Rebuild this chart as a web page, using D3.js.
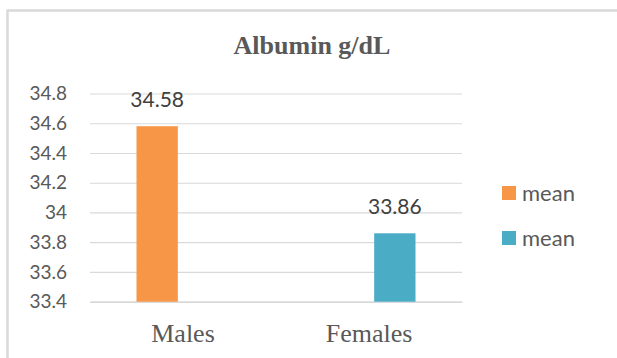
<!DOCTYPE html>
<html>
<head>
<meta charset="utf-8">
<script src="https://cdn.jsdelivr.net/npm/d3@7"></script>
<style>
  html, body { margin: 0; padding: 0; background: #fff; }
  svg { display: block; }
</style>
</head>
<body>
<svg id="chart" width="617" height="358"></svg>
<script>
// Chart data
const categories = ["Males", "Females"];
const seriesNames = ["mean", "mean"];
const seriesKeys = ["s1", "s2"];
const maleMeans = [34.58, null];      // first series (orange)
const femaleMeans = [null, 33.86];    // second series (teal)
const yTicks = [33.4, 33.6, 33.8, 34, 34.2, 34.4, 34.6, 34.8];
const seriesColors = ["#F79646", "#4BACC6"];

const svg = d3.select("#chart");
const W = 617, H = 358;
const textColor = "#595959";
const gridColor = "#d9d9d9";

// Outer chart frame
svg.append("rect")
  .attr("x", 7.5).attr("y", 10.5)
  .attr("width", W + 20).attr("height", H + 20)
  .attr("fill", "#fff")
  .attr("stroke", "#d9d9d9")
  .attr("stroke-width", 2.5);

const plot = { left: 90, right: 462, top: 93.5, bottom: 301.7 };

const y = d3.scaleLinear()
  .domain([33.4, 34.8])
  .range([plot.bottom, plot.top]);

const x0 = d3.scaleBand()
  .domain(categories)
  .range([plot.left, plot.right])
  .padding(0);

const bw = x0.bandwidth();
const x1 = d3.scaleBand()
  .domain(seriesKeys)
  .range([bw * 0.25, bw * 0.75])
  .paddingInner(0.2)
  .paddingOuter(0);

// Title
svg.append("text")
  .attr("x", 312).attr("y", 54)
  .attr("text-anchor", "middle")
  .attr("font-family", "'Liberation Serif', 'Times New Roman', serif")
  .attr("font-weight", "bold")
  .attr("font-size", 26)
  .attr("fill", textColor)
  .text("Albumin g/dL");

// Gridlines and y axis labels
const yAxis = d3.axisLeft(y)
  .tickValues(yTicks)
  .tickSize(-(plot.right - plot.left))
  .tickPadding(23)
  .tickFormat(d => d3.format("")(+d.toFixed(1)));

const gy = svg.append("g")
  .attr("transform", `translate(${plot.left},0)`)
  .call(yAxis);
gy.select(".domain").remove();
gy.selectAll(".tick line")
  .attr("stroke", gridColor)
  .attr("stroke-width", 1.2);
gy.selectAll(".tick text")
  .attr("font-family", "Lato, 'Open Sans', sans-serif")
  .attr("font-size", 19)
  .attr("fill", textColor);

// X axis with category labels
const xAxis = d3.axisBottom(x0).tickSize(0).tickPadding(22);
const gx = svg.append("g")
  .attr("transform", `translate(0,${plot.bottom})`)
  .call(xAxis);
gx.select(".domain")
  .attr("stroke", gridColor)
  .attr("stroke-width", 1.5);
gx.selectAll(".tick text")
  .attr("font-family", "'Liberation Serif', 'Times New Roman', serif")
  .attr("font-size", 26)
  .attr("fill", textColor)
  .attr("dy", "0.69em");

// Bars
const series = [maleMeans, femaleMeans];
const rows = [];
series.forEach((vals, si) => {
  vals.forEach((v, ci) => {
    if (v !== null) rows.push({ cat: categories[ci], key: seriesKeys[si], value: v, color: seriesColors[si] });
  });
});

svg.append("g").selectAll("rect")
  .data(rows)
  .join("rect")
  .attr("x", d => x0(d.cat) + x1(d.key))
  .attr("y", d => y(d.value))
  .attr("width", x1.bandwidth())
  .attr("height", d => plot.bottom - y(d.value))
  .attr("fill", d => d.color);

// Value labels
svg.append("g").selectAll("text")
  .data(rows)
  .join("text")
  .attr("x", d => x0(d.cat) + x1(d.key) + x1.bandwidth() / 2)
  .attr("y", d => y(d.value) - 19)
  .attr("text-anchor", "middle")
  .attr("font-family", "Lato, 'Open Sans', sans-serif")
  .attr("font-size", 21)
  .attr("fill", "#404040")
  .text(d => d.value.toFixed(2));

// Legend
const legend = svg.append("g");
seriesNames.forEach((name, i) => {
  const ly = 193 + i * 45;
  legend.append("rect")
    .attr("x", 502).attr("y", ly - 7)
    .attr("width", 14).attr("height", 14)
    .attr("fill", seriesColors[i]);
  legend.append("text")
    .attr("x", 522).attr("y", ly)
    .attr("dy", "0.35em")
    .attr("font-family", "Lato, 'Open Sans', sans-serif")
    .attr("font-size", 22)
    .attr("fill", textColor)
    .text(name);
});
</script>
</body>
</html>
